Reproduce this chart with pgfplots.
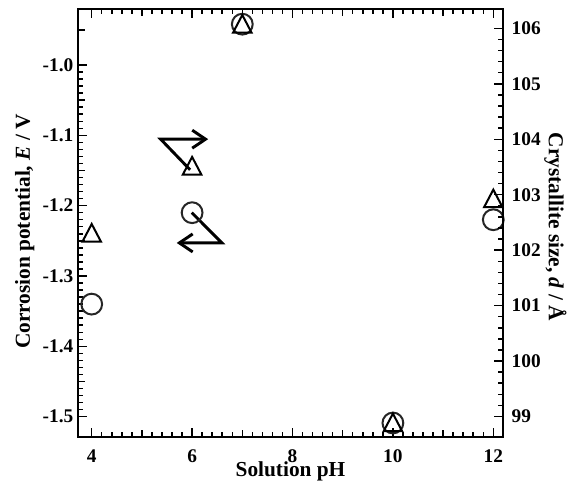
\documentclass[border=0pt]{standalone}
\usepackage{fontspec}
\setmainfont{Liberation Serif}
\usepackage{pgfplots}
\pgfplotsset{compat=1.18}
\usetikzlibrary{arrows.meta}

\newcommand{\tickfont}{\bfseries\fontsize{14.5}{17}\selectfont}
\newcommand{\labfont}{\bfseries\fontsize{16}{19}\selectfont}

\begin{document}
\begin{tikzpicture}
\pgfplotsset{
  common/.style={
    scale only axis, width=318.75pt, height=321pt,
    xmin=3.727, xmax=12.193,
    clip=false,
    axis line style={line width=1.5pt},
    tick style={line width=1.1pt, black},
    major tick length=7pt, minor tick length=4pt,
    /pgf/number format/assume math mode=true,
    ticklabel style={font=\tickfont},
  }
}
\begin{axis}[common, name=ax,
  ymin=-1.5289, ymax=-0.9204,
  tick align=inside,
  xtick={4,6,8,10,12}, minor x tick num=9,
  ytick={-1.5,-1.4,-1.3,-1.2,-1.1,-1.0}, minor y tick num=9,
  ytick pos=left,
  extra x ticks={5,7,9,11}, extra x tick labels={},
  extra x tick style={major tick length=5.5pt},
  extra y ticks={-1.45,-1.35,-1.25,-1.15,-1.05,-0.95}, extra y tick labels={},
  extra y tick style={major tick length=5.5pt},
  yticklabel style={/pgf/number format/.cd, fixed, fixed zerofill, precision=1},
  xticklabel style={yshift=-6pt},
  xlabel={Solution pH},
  ylabel={Corrosion potential, \textit{E} / V},
  every axis x label/.style={at={(axis description cs:0.5,0)}, anchor=north, yshift=-18.5pt, inner sep=0pt, font=\labfont},
  every axis y label/.style={at={(axis description cs:-0.113,0.48)}, rotate=90, anchor=base, inner sep=0pt, font=\labfont},
]
\addplot[only marks, mark=o, mark size=7.8pt, line width=1.5pt, color=black!85] coordinates {(4,-1.34) (6,-1.21) (7,-0.942) (10,-1.509) (12,-1.22)};
\draw[line width=2.2pt, line join=miter, -{Straight Barb[length=10pt,width=13.5pt]}] (axis cs:5.96,-1.149) -- (axis cs:5.374,-1.1055) -- (axis cs:6.32,-1.1055);
\draw[line width=2.2pt, line join=miter, -{Straight Barb[length=10pt,width=13.5pt]}] (axis cs:5.994,-1.210) -- (axis cs:6.594,-1.253) -- (axis cs:5.694,-1.253);
\end{axis}
\begin{axis}[common,
  ymin=98.63, ymax=106.35,
  axis y line*=right, axis x line=none,
  tick align=inside,
  ytick={99,100,101,102,103,104,105,106}, minor y tick num=4,
  yticklabel style={xshift=3pt},
  ylabel={Crystallite size, \textit{d} / Å},
  every axis y label/.style={at={(axis description cs:1.108,0.491)}, rotate=-90, anchor=base, inner sep=0pt, font=\labfont},
]
\addplot[only marks, mark=triangle, mark size=8pt, mark options={yscale=1.1}, line width=1.5pt, black] coordinates {(4,102.26) (6,103.47) (7,106.03) (10,98.84) (12,102.88)};
\end{axis}
\pgfresetboundingbox
\path ([shift={(-58.5pt,-33pt)}]ax.south west) rectangle ([shift={(53.25pt,6.75pt)}]ax.north east);
\end{tikzpicture}
\end{document}
